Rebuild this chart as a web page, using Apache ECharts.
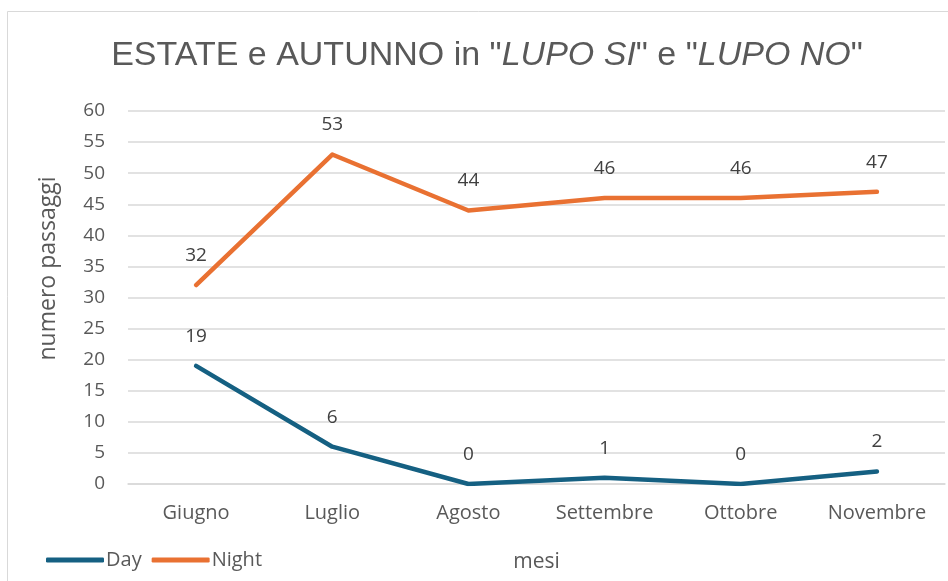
<!DOCTYPE html>
<html>
<head>
<meta charset="utf-8">
<script src="https://cdn.jsdelivr.net/npm/echarts@6/dist/echarts.min.js"></script>
<style>
  html, body { margin: 0; padding: 0; background: #fff; }
  #chart { width: 948px; height: 581px; }
</style>
</head>
<body>
<div id="chart"></div>
<script>
const months = ["Giugno", "Luglio", "Agosto", "Settembre", "Ottobre", "Novembre"];
const dayValues = [19, 6, 0, 1, 0, 2];
const nightValues = [32, 53, 44, 46, 46, 47];

const titleFont = "'Liberation Sans', Arial, sans-serif";
const font = "'Open Sans', 'Liberation Sans', sans-serif";

const chart = echarts.init(document.getElementById("chart"));

const lineLabel = {
  show: true,
  position: "top",
  distance: 20,
  fontFamily: font,
  fontSize: 19,
  color: "#404040",
};

const option = {
  animation: false,
  backgroundColor: "#fff",
  graphic: [
    {
      type: "rect",
      shape: { x: 7.5, y: 11.5, width: 960, height: 600 },
      style: { fill: "none", stroke: "#d9d9d9", lineWidth: 1 },
      silent: true,
    },
  ],
  title: {
    text: 'ESTATE e AUTUNNO in "{i|LUPO SI}" e "{i|LUPO NO}"',
    left: 482,
    textAlign: "center",
    top: 34,
    textStyle: {
      fontFamily: titleFont,
      fontSize: 34,
      fontWeight: "normal",
      color: "#595959",
      rich: {
        i: {
          fontFamily: titleFont,
          fontSize: 34,
          fontStyle: "italic",
          color: "#595959",
        },
      },
    },
  },
  legend: {
    left: 41,
    top: 545,
    itemWidth: 58,
    itemHeight: 5,
    itemGap: 10,
    icon: "roundRect",
    textStyle: { fontFamily: font, fontSize: 20, color: "#595959", padding: [0, 0, 0, -3] },
    data: ["Day", "Night"],
  },
  grid: {
    left: 128,
    right: 3,
    top: 111,
    bottom: 97,
  },
  xAxis: {
    type: "category",
    data: months,
    name: "mesi",
    nameLocation: "middle",
    nameGap: 68,
    nameTextStyle: { fontFamily: font, fontSize: 21, color: "#595959" },
    axisLine: { show: true, lineStyle: { color: "#d9d9d9", width: 1.5 } },
    axisTick: { show: false },
    axisLabel: { fontFamily: font, fontSize: 20, color: "#595959", margin: 19 },
  },
  yAxis: {
    type: "value",
    min: 0,
    max: 60,
    interval: 5,
    name: "numero passaggi",
    nameLocation: "middle",
    nameGap: 68,
    nameTextStyle: { fontFamily: font, fontSize: 23, color: "#595959", padding: [0, 0, 0, 58] },
    axisLine: { show: false },
    axisTick: { show: false },
    axisLabel: { fontFamily: font, fontSize: 19, color: "#595959", margin: 23 },
    splitLine: { lineStyle: { color: "#d9d9d9", width: 1.5 } },
  },
  series: [
    {
      name: "Day",
      type: "line",
      data: dayValues,
      symbol: "circle",
      symbolSize: 0,
      showSymbol: true,
      lineStyle: { width: 4.5, color: "#156082", cap: "round", join: "round" },
      itemStyle: { color: "#156082" },
      label: lineLabel,
    },
    {
      name: "Night",
      type: "line",
      data: nightValues,
      symbol: "circle",
      symbolSize: 0,
      showSymbol: true,
      lineStyle: { width: 4.5, color: "#E97132", cap: "round", join: "round" },
      itemStyle: { color: "#E97132" },
      label: lineLabel,
    },
  ],
};

chart.setOption(option);
window.addEventListener("resize", () => {
  chart?.resize();
});
</script>
</body>
</html>
